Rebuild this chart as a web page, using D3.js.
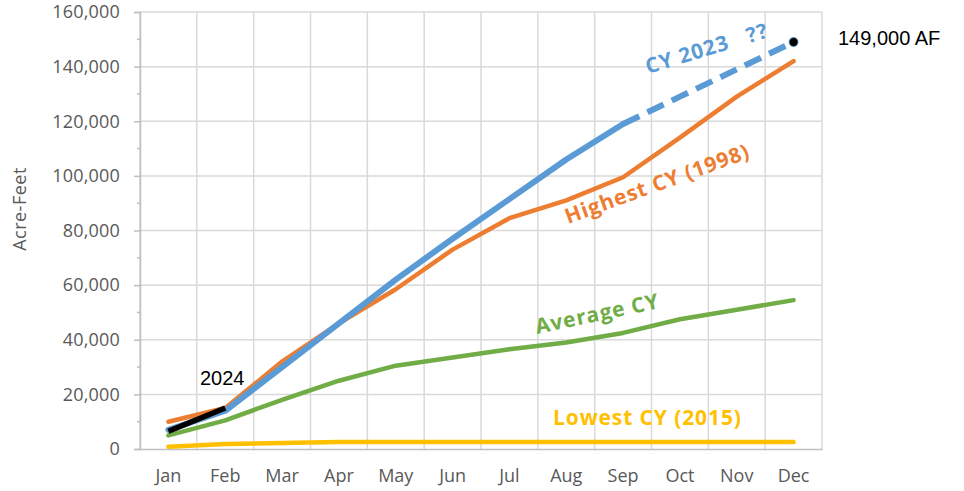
<!DOCTYPE html>
<html>
<head>
<meta charset="utf-8">
<script src="https://cdn.jsdelivr.net/npm/d3@7"></script>
<style>
  html, body { margin: 0; padding: 0; background: #fff; }
  svg { display: block; }
</style>
</head>
<body>
<svg id="chart" width="964" height="491"></svg>
<script>
const months = ["Jan","Feb","Mar","Apr","May","Jun","Jul","Aug","Sep","Oct","Nov","Dec"];
const yTicks = [0, 20000, 40000, 60000, 80000, 100000, 120000, 140000, 160000];
const cy2023Actual = [7000, 14000, 30000, 46000, 62000, 77000, 91500, 106000, 119000, null, null, null];
const cy2023Projected = [null, null, null, null, null, null, null, null, 119000, 129000, 139000, 149000];
const highest1998 = [10000, 15000, 32000, 46000, 58500, 73000, 84500, 91000, 99500, 114000, 129000, 142000];
const averageCY = [5000, 10500, 18000, 25000, 30500, 33500, 36500, 39000, 42500, 47500, 51000, 54500];
const lowest2015 = [800, 1800, 2200, 2600, 2600, 2600, 2600, 2600, 2600, 2600, 2600, 2600];
const cy2024 = [6500, 15000, null, null, null, null, null, null, null, null, null, null];
const projectedTotal = 149000;

const svg = d3.select("#chart");
const pLeft = 140, pRight = 822, pTop = 12, pBottom = 449;

const x = d3.scaleBand().domain(months).range([pLeft, pRight]).padding(0);
const y = d3.scaleLinear().domain([0, 160000]).range([pBottom, pTop]);
const cx = m => x(m) + x.bandwidth() / 2;

// gridlines
const grid = svg.append("g");
grid.selectAll("line.h").data(yTicks.slice(1)).join("line")
  .attr("x1", pLeft).attr("x2", pRight)
  .attr("y1", d => y(d)).attr("y2", d => y(d))
  .attr("stroke", "#d9d9d9").attr("stroke-width", 1.5);
const vx = months.map(m => x(m) + x.bandwidth()).concat([pLeft]);
grid.selectAll("line.v").data(vx).join("line")
  .attr("x1", d => d).attr("x2", d => d)
  .attr("y1", pTop).attr("y2", pBottom)
  .attr("stroke", "#d9d9d9").attr("stroke-width", 1.5);

// y axis
const yAxis = d3.axisLeft(y).tickValues(yTicks).tickSize(6).tickPadding(14)
  .tickFormat(d3.format(","));
const ya = svg.append("g").attr("transform", `translate(${pLeft},0)`).call(yAxis);
ya.select(".domain").attr("stroke", "#bfbfbf").attr("stroke-width", 1.5);
ya.selectAll(".tick line").attr("stroke", "#bfbfbf").attr("stroke-width", 1.5);
ya.selectAll("text").attr("fill", "#595959").style("font-family", "'Open Sans', sans-serif")
  .style("font-size", "18px").style("letter-spacing", "0.2px");
// minor ticks
const minor = d3.range(10000, 160000, 20000);
svg.append("g").selectAll("line").data(minor).join("line")
  .attr("x1", pLeft - 3).attr("x2", pLeft).attr("y1", d => y(d)).attr("y2", d => y(d))
  .attr("stroke", "#bfbfbf").attr("stroke-width", 1.5);

// x axis
const xAxis = d3.axisBottom(x).tickSize(0).tickPadding(20);
const xa = svg.append("g").attr("transform", `translate(0,${pBottom})`).call(xAxis);
xa.select(".domain").attr("stroke", "#bfbfbf").attr("stroke-width", 1.5);
xa.selectAll("text").attr("fill", "#595959").style("font-family", "'Open Sans', sans-serif").style("font-size", "18px");

// y title
svg.append("text").attr("transform", "translate(26,209) rotate(-90)")
  .attr("text-anchor", "middle").attr("fill", "#595959")
  .style("font-family", "'Open Sans', sans-serif").style("font-size", "18px")
  .style("letter-spacing", "0.5px").text("Acre-Feet");

const line = d3.line().defined(d => d[1] != null).x(d => cx(d[0])).y(d => y(d[1]));
const pairs = arr => months.map((m, i) => [m, arr[i]]);

function drawLine(arr, color, w, dash) {
  const p = svg.append("path").datum(pairs(arr)).attr("d", line)
    .attr("fill", "none").attr("stroke", color).attr("stroke-width", w)
    .attr("stroke-linecap", "round").attr("stroke-linejoin", "round");
  if (dash) p.attr("stroke-dasharray", dash).attr("stroke-linecap", "butt");
  return p;
}
drawLine(lowest2015, "#ffc000", 4.5);
drawLine(averageCY, "#70ad47", 4.5);
drawLine(highest1998, "#ed7d31", 4.5);
drawLine(cy2023Actual, "#5b9bd5", 6);
drawLine(cy2023Projected, "#5b9bd5", 6, "18,9");
drawLine(cy2024, "#000000", 5.5).attr("stroke-linecap", "butt");

// end dot
svg.append("circle").attr("cx", cx("Dec")).attr("cy", y(projectedTotal)).attr("r", 4.5)
  .attr("fill", "#000").attr("stroke", "#5b9bd5").attr("stroke-width", 0.8);

// series labels
const lab = (txt, color, tx, ty, rot) => svg.append("text")
  .attr("transform", `translate(${tx},${ty}) rotate(${rot})`)
  .attr("fill", color).style("font-family", "'Open Sans', sans-serif")
  .style("font-weight", "bold").style("font-size", "21px").style("letter-spacing", "0.9px")
  .style("white-space", "pre").attr("xml:space", "preserve").text(txt);
lab("CY 2023   ??", "#5b9bd5", 648, 74, -17);
lab("Highest CY (1998)", "#ed7d31", 568, 224, -20);
lab("Average CY", "#70ad47", 537, 334, -12);
lab("Lowest CY (2015)", "#ffc000", 553, 425, 0);

// annotations
svg.append("text").attr("x", 200).attr("y", 385).attr("fill", "#000")
  .style("font-family", "'Liberation Sans', Arial, sans-serif").style("font-size", "20px").text("2024");
svg.append("text").attr("x", 838).attr("y", 45).attr("fill", "#000")
  .style("font-family", "'Liberation Sans', Arial, sans-serif").style("font-size", "20px").text("149,000 AF");
</script>
</body>
</html>
